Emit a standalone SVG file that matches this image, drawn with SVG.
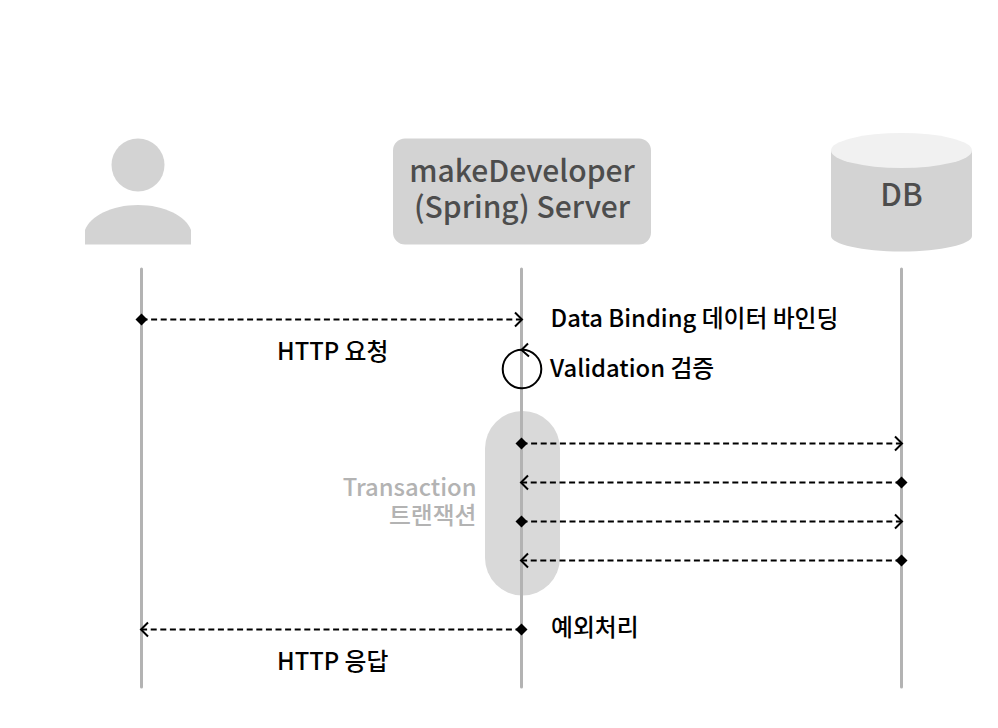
<svg xmlns="http://www.w3.org/2000/svg" width="998" height="728" viewBox="0 0 998 728">
<defs>
<style>
text{font-family:"Noto Sans CJK KR","Noto Sans",sans-serif;}
.life{stroke:#b3b3b3;stroke-width:3;fill:none;stroke-linecap:round}
.msg{stroke:#000;stroke-width:2;fill:none;stroke-dasharray:6 3.6}
.lbl{font-size:23.800px;fill:#000;font-weight:500}
.head{font-size:30px;fill:#4d4d4d;font-weight:500}
.tx{font-size:23.800px;fill:#b3b3b3;font-weight:500;text-anchor:end}
</style>
<marker id="open" markerWidth="14" markerHeight="18" refX="11" refY="9" orient="auto" markerUnits="userSpaceOnUse"><path d="M4 2L11 9L4 16" fill="none" stroke="#000" stroke-width="2"/></marker>
<marker id="dia" markerWidth="14" markerHeight="14" refX="7" refY="7" orient="auto" markerUnits="userSpaceOnUse"><path d="M7 1L13 7L7 13L1 7Z" fill="#000"/></marker>
</defs>
<g id="user"><circle cx="138" cy="165" r="26.500" fill="#d3d3d3"/><path d="M85 244.500V230C90 216 112 205 138 205C164 205 186 216 191 230V244.500Z" fill="#d3d3d3"/></g>
<g id="server"><rect x="393" y="138.500" width="258" height="106" rx="12" fill="#d3d3d3"/><text class="head" x="522" y="182" text-anchor="middle">makeDeveloper</text><text class="head" x="522" y="218" text-anchor="middle">(Spring) Server</text></g>
<g id="db"><path d="M831 151V236C831 244 862 251.500 901.500 251.500C941 251.500 972 244 972 236V151Z" fill="#d3d3d3"/><ellipse cx="901.500" cy="150.500" rx="70.500" ry="17.500" fill="#f1f1f1"/><text class="head" x="901.500" y="206" text-anchor="middle" style="font-size:31px">DB</text></g>
<g id="transaction"><rect x="485" y="411" width="75" height="184.500" rx="37.500" fill="#d9d9d9"/><text class="tx" x="476.500" y="496">Transaction</text><text class="tx" x="476.500" y="524">트랜잭션</text></g>
<g id="connectors">
<path class="life" d="M141.500 269V687M521.500 269V687M901.500 269V687"/>
<path class="msg" marker-start="url(#dia)" marker-end="url(#open)" d="M141.500 319.500H522"/>
<path class="msg" marker-start="url(#dia)" marker-end="url(#open)" d="M521.500 443.500H902"/>
<path class="msg" marker-start="url(#dia)" marker-end="url(#open)" d="M901.500 482.500H521"/>
<path class="msg" marker-start="url(#dia)" marker-end="url(#open)" d="M521.500 521.500H902"/>
<path class="msg" marker-start="url(#dia)" marker-end="url(#open)" d="M901.500 560.500H521"/>
<path class="msg" marker-start="url(#dia)" marker-end="url(#open)" d="M521.500 629.500H141"/>
<circle cx="522" cy="369" r="19.300" fill="none" stroke="#000" stroke-width="2"/>
<path d="M528 343.500L521.500 350L529 356.500" fill="none" stroke="#000" stroke-width="2"/>
</g>
<g id="labels">
<text class="lbl" x="550.500" y="327">Data Binding 데이터 바인딩</text>
<text class="lbl" x="277" y="360">HTTP 요청</text>
<text class="lbl" x="550" y="377">Validation 검증</text>
<text class="lbl" x="551" y="636">예외처리</text>
<text class="lbl" x="277" y="670">HTTP 응답</text>
</g>
</svg>
